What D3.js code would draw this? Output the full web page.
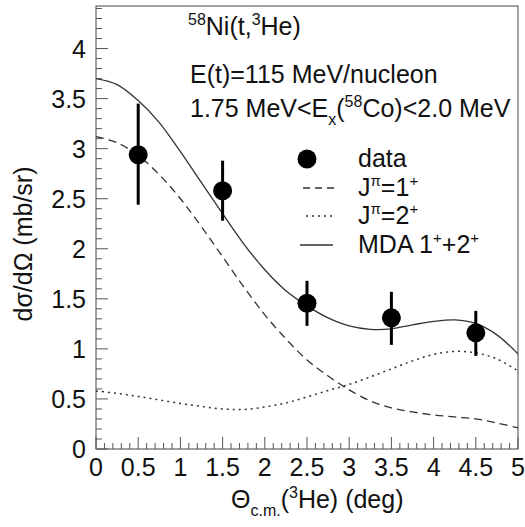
<!DOCTYPE html>
<html>
<head>
<meta charset="utf-8">
<script src="https://cdn.jsdelivr.net/npm/d3@7"></script>
<style>
  body { margin: 0; background: #fff; }
  svg { font-family: "Liberation Sans", Arial, sans-serif; }
</style>
</head>
<body>
<div id="chart"></div>
<script>
// angle grid for the model curves (deg)
const theta = [0, 0.25, 0.5, 0.75, 1.0, 1.25, 1.5, 1.75, 2.0, 2.25, 2.5,
               2.75, 3.0, 3.25, 3.5, 3.75, 4.0, 4.25, 4.5, 4.75, 5.0];
// J=1+ (dashed)
const jp1 = [3.12, 3.06, 2.93, 2.74, 2.50, 2.22, 1.92, 1.62, 1.34, 1.10, 0.89,
             0.73, 0.59, 0.48, 0.41, 0.37, 0.34, 0.32, 0.30, 0.26, 0.21];
// J=2+ (dotted)
const jp2 = [0.58, 0.555, 0.525, 0.49, 0.455, 0.425, 0.40, 0.395, 0.42, 0.46, 0.52,
             0.585, 0.645, 0.72, 0.80, 0.88, 0.945, 0.975, 0.96, 0.90, 0.78];
// MDA 1+ + 2+ (solid)
const mda = [3.70, 3.64, 3.48, 3.26, 2.97, 2.66, 2.35, 2.05, 1.79, 1.58, 1.43,
             1.31, 1.23, 1.195, 1.20, 1.24, 1.275, 1.29, 1.255, 1.14, 0.95];

// measured points
const dataX = [0.5, 1.5, 2.5, 3.5, 4.5];
const dataY = [2.94, 2.58, 1.455, 1.31, 1.16];
const errLo = [2.44, 2.28, 1.23, 1.04, 0.93];
const errHi = [3.45, 2.88, 1.68, 1.57, 1.38];

const xTickLabels = ["0", "0.5", "1", "1.5", "2", "2.5", "3", "3.5", "4", "4.5", "5"];
const yTickLabels = ["0", "0.5", "1", "1.5", "2", "2.5", "3", "3.5", "4"];

const W = 525, H = 527;
const padL = 96, padR = 518, padT = 6, padB = 449;
const ink = "#333";
const fs = 25, fsSmall = 16;

const svg = d3.select("#chart").append("svg")
    .attr("width", W)
    .attr("height", H);

svg.append("rect").attr("width", W).attr("height", H).attr("fill", "#fff");

const x = d3.scaleLinear().domain([0, 5]).range([padL, padR]);
const y = d3.scaleLinear().domain([0, 4.425]).range([padB, padT]);

// writes text made of normal / sup / sub pieces, shifting each piece from the last one
function rich(sel, parts, big, small) {
    let cur = 0;
    parts.forEach(p => {
        let off = 0, size = big;
        if (p[1] === "sup") { off = -big * 0.42; size = small; }
        if (p[1] === "sub") { off = big * 0.3; size = small; }
        sel.append("tspan")
            .attr("font-size", size)
            .attr("dy", off - cur)
            .text(p[0]);
        cur = off;
    });
    return sel;
}

// ticks
const yMinor = d3.range(0, 45).map(i => i / 10);
const xMinor = d3.range(0, 51).map(i => i / 10);
const isMajor = v => Math.abs(v * 2 - Math.round(v * 2)) < 1e-6;

svg.append("g").selectAll("line")
    .data(yMinor)
    .join("line")
    .attr("x1", padL)
    .attr("x2", d => padL + (isMajor(d) ? 12 : 6))
    .attr("y1", d => y(d)).attr("y2", d => y(d))
    .attr("stroke", "#555").attr("stroke-width", 1);

svg.append("g").selectAll("line")
    .data(xMinor)
    .join("line")
    .attr("y1", padB)
    .attr("y2", d => padB - (isMajor(d) ? 12 : 6))
    .attr("x1", d => x(d)).attr("x2", d => x(d))
    .attr("stroke", "#555").attr("stroke-width", 1);

// frame
svg.append("rect")
    .attr("x", padL).attr("y", padT)
    .attr("width", padR - padL).attr("height", padB - padT)
    .attr("fill", "none").attr("stroke", "#555").attr("stroke-width", 1.1);

// tick labels
svg.append("g").selectAll("text")
    .data(yTickLabels)
    .join("text")
    .attr("x", 86)
    .attr("y", d => y(+d) + 9)
    .attr("text-anchor", "end")
    .attr("font-size", fs)
    .attr("fill", "#111")
    .text(d => d);

svg.append("g").selectAll("text")
    .data(xTickLabels)
    .join("text")
    .attr("x", d => x(+d))
    .attr("y", 476)
    .attr("text-anchor", "middle")
    .attr("font-size", fs)
    .attr("fill", "#111")
    .text(d => d);

// axis titles
rich(svg.append("text")
    .attr("x", 231).attr("y", 508)
    .attr("fill", "#111"),
    [["\u0398"], ["c.m.", "sub"], ["("], ["3", "sup"], ["He) (deg)"]], fs, fsSmall);

svg.append("text")
    .attr("transform", "translate(32,244) rotate(-90)")
    .attr("text-anchor", "middle")
    .attr("font-size", fs).attr("fill", "#111")
    .text("d\u03c3/d\u03a9 (mb/sr)");

// curves
const line = d3.line()
    .x((d, i) => x(theta[i]))
    .y(d => y(d))
    .curve(d3.curveCatmullRom.alpha(0.5));

const plot = svg.append("g");
plot.append("path").attr("d", line(jp1))
    .attr("fill", "none").attr("stroke", ink).attr("stroke-width", 1.3)
    .attr("stroke-dasharray", "8,5");
plot.append("path").attr("d", line(jp2))
    .attr("fill", "none").attr("stroke", ink).attr("stroke-width", 1.5)
    .attr("stroke-dasharray", "2,4");
plot.append("path").attr("d", line(mda))
    .attr("fill", "none").attr("stroke", ink).attr("stroke-width", 1.3);

// data points
plot.selectAll(".err")
    .data(dataX)
    .join("line")
    .attr("x1", d => x(d)).attr("x2", d => x(d))
    .attr("y1", (d, i) => y(errLo[i])).attr("y2", (d, i) => y(errHi[i]))
    .attr("stroke", "#000").attr("stroke-width", 3);

plot.selectAll(".pt")
    .data(dataX)
    .join("circle")
    .attr("cx", d => x(d)).attr("cy", (d, i) => y(dataY[i]))
    .attr("r", 9.5).attr("fill", "#000");

// annotations
const txt = svg.append("g").attr("fill", "#111");
rich(txt.append("text").attr("x", 188).attr("y", 35),
    [["58", "sup"], ["Ni(t,"], ["3", "sup"], ["He)"]], fs, fsSmall);
txt.append("text").attr("x", 190).attr("y", 83).attr("font-size", fs)
    .text("E(t)=115 MeV/nucleon");
rich(txt.append("text").attr("x", 190).attr("y", 117),
    [["1.75 MeV<E"], ["x", "sub"], ["("], ["58", "sup"], ["Co)<2.0 MeV"]], fs, fsSmall);

// legend
const legY = [159, 188, 216, 245];
const leg = svg.append("g");
leg.append("circle").attr("cx", 307).attr("cy", legY[0]).attr("r", 9.5).attr("fill", "#000");
leg.append("line").attr("x1", 303).attr("x2", 334).attr("y1", legY[1]).attr("y2", legY[1])
    .attr("stroke", ink).attr("stroke-width", 1.3).attr("stroke-dasharray", "7,5");
leg.append("line").attr("x1", 306).attr("x2", 334).attr("y1", legY[2]).attr("y2", legY[2])
    .attr("stroke", ink).attr("stroke-width", 1.5).attr("stroke-dasharray", "2,4");
leg.append("line").attr("x1", 300).attr("x2", 333).attr("y1", legY[3]).attr("y2", legY[3])
    .attr("stroke", ink).attr("stroke-width", 1.3);

const lt = leg.append("g").attr("fill", "#111");
lt.append("text").attr("x", 358).attr("y", legY[0] + 8).attr("font-size", fs).text("data");
rich(lt.append("text").attr("x", 358).attr("y", legY[1] + 8),
    [["J"], ["\u03c0", "sup"], ["=1"], ["+", "sup"]], fs, 15);
rich(lt.append("text").attr("x", 358).attr("y", legY[2] + 8),
    [["J"], ["\u03c0", "sup"], ["=2"], ["+", "sup"]], fs, 15);
rich(lt.append("text").attr("x", 358).attr("y", legY[3] + 8),
    [["MDA 1"], ["+", "sup"], ["+2"], ["+", "sup"]], fs, 15);
</script>
</body>
</html>
